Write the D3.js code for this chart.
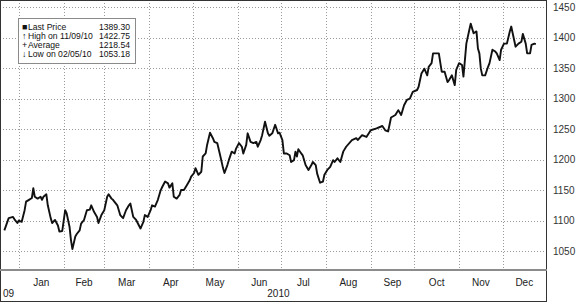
<!DOCTYPE html>
<html>
<head>
<meta charset="utf-8">
<script src="https://cdn.jsdelivr.net/npm/d3@7"></script>
<style>
  body { margin: 0; background: #fff; }
  svg text { font-family: "Liberation Sans", Arial, sans-serif; }
</style>
</head>
<body>
<svg width="578" height="304"></svg>
<script>
// gold price, daily-ish readings
var priceDates = [
  "2009-12-22","2009-12-25","2009-12-28","2009-12-29","2009-12-31",
  "2010-01-01","2010-01-03","2010-01-05","2010-01-06","2010-01-08","2010-01-10","2010-01-11","2010-01-12",
  "2010-01-14","2010-01-16","2010-01-17","2010-01-18","2010-01-20","2010-01-21","2010-01-23","2010-01-24",
  "2010-01-26","2010-01-28","2010-01-29","2010-01-31",
  "2010-02-02","2010-02-03","2010-02-05","2010-02-06","2010-02-07","2010-02-09","2010-02-10","2010-02-12",
  "2010-02-13","2010-02-15","2010-02-17","2010-02-19","2010-02-20","2010-02-22","2010-02-24","2010-02-25","2010-02-27",
  "2010-03-01","2010-03-03","2010-03-04","2010-03-06","2010-03-07","2010-03-10","2010-03-12","2010-03-14",
  "2010-03-16","2010-03-18","2010-03-19","2010-03-21","2010-03-23","2010-03-26","2010-03-28","2010-03-29","2010-03-31",
  "2010-04-02","2010-04-03","2010-04-05","2010-04-07","2010-04-09","2010-04-10","2010-04-12","2010-04-14",
  "2010-04-15","2010-04-17","2010-04-18","2010-04-20","2010-04-22","2010-04-23","2010-04-25","2010-04-27",
  "2010-04-29","2010-04-30",
  "2010-05-02","2010-05-03","2010-05-05","2010-05-07","2010-05-08","2010-05-10","2010-05-11","2010-05-13",
  "2010-05-15","2010-05-16","2010-05-18","2010-05-20","2010-05-22","2010-05-23","2010-05-25","2010-05-26",
  "2010-05-28","2010-05-30","2010-05-31",
  "2010-06-02","2010-06-04","2010-06-05","2010-06-07","2010-06-08","2010-06-10","2010-06-12","2010-06-14",
  "2010-06-15","2010-06-17","2010-06-18","2010-06-20","2010-06-22","2010-06-23","2010-06-25","2010-06-27",
  "2010-06-29","2010-06-30",
  "2010-07-02","2010-07-03","2010-07-05","2010-07-07","2010-07-08","2010-07-10","2010-07-11","2010-07-12",
  "2010-07-13","2010-07-15","2010-07-16","2010-07-18","2010-07-20","2010-07-22","2010-07-23","2010-07-25",
  "2010-07-26","2010-07-28","2010-07-30","2010-07-31",
  "2010-08-02","2010-08-04","2010-08-06","2010-08-07","2010-08-09","2010-08-11","2010-08-13","2010-08-15",
  "2010-08-19","2010-08-22","2010-08-23","2010-08-26","2010-08-29",
  "2010-09-01","2010-09-05","2010-09-09","2010-09-11","2010-09-13","2010-09-15","2010-09-18","2010-09-20",
  "2010-09-22","2010-09-24","2010-09-26","2010-09-28","2010-09-30",
  "2010-10-03","2010-10-04","2010-10-06","2010-10-08","2010-10-10","2010-10-11","2010-10-13","2010-10-14",
  "2010-10-18","2010-10-20","2010-10-22","2010-10-24","2010-10-25","2010-10-27","2010-10-29","2010-10-30",
  "2010-11-01","2010-11-03","2010-11-04","2010-11-06","2010-11-07","2010-11-08","2010-11-09","2010-11-11",
  "2010-11-13","2010-11-14","2010-11-15","2010-11-16","2010-11-17","2010-11-19","2010-11-21","2010-11-22",
  "2010-11-24","2010-11-26","2010-11-27","2010-11-29","2010-11-30",
  "2010-12-02","2010-12-04","2010-12-06","2010-12-07","2010-12-08","2010-12-10","2010-12-12","2010-12-14",
  "2010-12-15","2010-12-17","2010-12-18","2010-12-20","2010-12-21","2010-12-23","2010-12-24"
];
var priceValues = [
  1084,1104,1106,1102,1096,
  1100,1098,1117,1131,1134,1137,1153,1139,
  1136,1139,1134,1139,1143,1125,1104,1096,
  1101,1092,1082,1083,
  1117,1112,1090,1068,1053.18,1074,1078,1084,
  1095,1101,1117,1118,1125,1114,1106,1096,1109,
  1117,1139,1143,1136,1134,1125,1109,1104,
  1117,1125,1128,1106,1101,1087,1098,1109,1106,
  1117,1125,1123,1134,1150,1155,1164,1161,
  1154,1161,1139,1136,1142,1150,1150,1158,
  1166,1172,
  1178,1186,1175,1180,1205,1210,1224,1244,
  1235,1229,1227,1207,1186,1178,1191,1199,
  1213,1210,1218,
  1227,1221,1210,1224,1243,1229,1227,1229,
  1221,1232,1240,1262,1243,1239,1243,1257,
  1243,1244,
  1232,1210,1210,1207,1196,1199,1213,1205,
  1217,1210,1207,1191,1183,1191,1196,1191,
  1177,1162,1164,1175,
  1183,1188,1199,1196,1202,1196,1213,1221,
  1232,1235,1232,1240,1237,
  1248,1251,1255,1248,1246,1269,1273,1281,
  1273,1289,1298,1300,1311,
  1314,1319,1341,1349,1338,1352,1358,1374,
  1374,1344,1344,1327,1330,1338,1322,1347,
  1358,1355,1336,1390,1401,1412,1422.75,1407,
  1410,1382,1374,1349,1338,1338,1352,1358,
  1380,1377,1374,1363,1380,
  1390,1390,1410,1418,1407,1385,1390,1393,
  1406,1390,1374,1374,1388,1390,1389.30
];

var yTicks = [1050, 1100, 1150, 1200, 1250, 1300, 1350, 1400, 1450];
var monthLabels = ["Jan","Feb","Mar","Apr","May","Jun","Jul","Aug","Sep","Oct","Nov","Dec"];
var yearLabels = ["09", "2010"];
var legendSymbols = ["\u25A0", "\u2191", "+", "\u2193"];
var legendNames = ["Last Price", "High on 11/09/10", "Average", "Low on 02/05/10"];
var legendValues = ["1389.30", "1422.75", "1218.54", "1053.18"];

var parseDate = d3.timeParse("%Y-%m-%d");
var data = priceDates.map(function(d, i) { return {date: parseDate(d), value: priceValues[i]}; });

var svg = d3.select("svg"),
    plotW = 546,
    plotH = 270,
    frameH = 301;

var start = parseDate("2009-12-19"),
    end = parseDate("2010-12-31");

var x = d3.scaleTime().domain([start, end]).range([0, plotW]),
    y = d3.scaleLinear().domain([1019, 1461.5]).range([plotH, 0]);

var months = d3.timeMonth.range(parseDate("2010-01-01"), parseDate("2011-01-01"));

// grid
svg.append("g")
    .selectAll("line")
    .data(yTicks)
  .enter().append("line")
    .attr("x1", 0).attr("x2", plotW)
    .attr("y1", function(d) { return Math.round(y(d)) + 0.5; })
    .attr("y2", function(d) { return Math.round(y(d)) + 0.5; })
    .attr("stroke", "#9a9a9a")
    .attr("stroke-dasharray", "1,2");

svg.append("g")
    .selectAll("line")
    .data(months)
  .enter().append("line")
    .attr("x1", function(d) { return Math.round(x(d)) + 0.5; })
    .attr("x2", function(d) { return Math.round(x(d)) + 0.5; })
    .attr("y1", 0).attr("y2", plotH)
    .attr("stroke", "#9a9a9a")
    .attr("stroke-dasharray", "1,2");

// price line
var line = d3.line()
    .x(function(d) { return x(d.date); })
    .y(function(d) { return y(d.value); });

svg.append("path")
    .datum(data)
    .attr("fill", "none")
    .attr("stroke", "#111")
    .attr("stroke-width", 1.9)
    .attr("stroke-linejoin", "round")
    .attr("d", line);

// frame + axis separator
svg.append("rect")
    .attr("x", 0.5).attr("y", 0.5)
    .attr("width", plotW).attr("height", frameH)
    .attr("fill", "none")
    .attr("stroke", "#333");

svg.append("line")
    .attr("x1", 0).attr("x2", plotW + 1)
    .attr("y1", plotH).attr("y2", plotH)
    .attr("stroke", "#8c8c8c")
    .attr("stroke-width", 2);

// y labels on the right
svg.append("g")
    .selectAll("text")
    .data(yTicks)
  .enter().append("text")
    .attr("x", 553)
    .attr("y", function(d) { return y(d); })
    .attr("dy", "0.35em")
    .attr("font-size", 10)
    .attr("fill", "#333")
    .text(function(d) { return d; });

// month labels
svg.append("g")
    .selectAll("text")
    .data(months)
  .enter().append("text")
    .attr("x", function(d) { return (x(d) + Math.min(x(d3.timeMonth.offset(d, 1)), plotW)) / 2; })
    .attr("y", 286)
    .attr("text-anchor", "middle")
    .attr("font-size", 10)
    .attr("fill", "#222")
    .text(function(d, i) { return monthLabels[i]; });

svg.append("text")
    .attr("x", x(start) + 3)
    .attr("y", 297)
    .attr("font-size", 10)
    .attr("fill", "#222")
    .text(yearLabels[0]);

svg.append("text")
    .attr("x", (x(months[0]) + plotW) / 2 - 4)
    .attr("y", 297)
    .attr("text-anchor", "middle")
    .attr("font-size", 10)
    .attr("fill", "#222")
    .text(yearLabels[1]);

// legend box
var lg = svg.append("g").attr("transform", "translate(18,18)");

lg.append("rect")
    .attr("x", 0.5).attr("y", 0.5)
    .attr("width", 117).attr("height", 45)
    .attr("fill", "#fff")
    .attr("stroke", "#8a8a8a");

var rows = lg.selectAll(".row")
    .data(legendNames)
  .enter().append("g")
    .attr("class", "row")
    .attr("transform", function(d, i) { return "translate(0," + (12 + i * 9) + ")"; })
    .attr("font-size", 8.6)
    .attr("fill", "#111");

rows.append("text")
    .attr("x", 4)
    .attr("font-size", 9)
    .text(function(d, i) { return legendSymbols[i]; });

rows.append("text")
    .attr("x", function(d, i) { return i == 0 ? 10 : 10; })
    .text(function(d) { return d; });

rows.append("text")
    .attr("x", 112)
    .attr("text-anchor", "end")
    .text(function(d, i) { return legendValues[i]; });
</script>
</body>
</html>
